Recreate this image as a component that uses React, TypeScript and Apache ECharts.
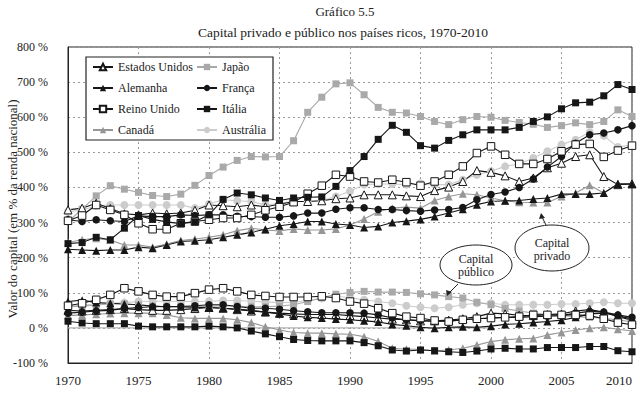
import React, { useEffect, useRef } from 'react';
import * as echarts from 'echarts';

const years: number[] = Array.from({ length: 41 }, (_, i) => 1970 + i);

// Private capital (% of national income)
const usPriv = [336,341,355,340,325,322,327,325,327,335,350,348,345,350,345,352,360,360,362,368,370,379,379,379,376,374,391,401,417,448,443,433,417,427,456,469,488,493,431,408,410];
const jpPriv = [303,338,376,405,395,386,377,374,381,406,434,458,477,488,487,488,533,614,657,695,698,664,628,614,612,602,588,579,593,602,600,591,585,580,571,576,584,579,588,621,602];
const dePriv = [224,222,220,222,222,230,227,236,246,248,251,258,265,272,281,291,296,303,303,296,293,286,289,300,304,309,317,327,338,351,360,362,363,367,370,381,381,381,384,410,410];
const frPriv = [308,303,308,305,303,319,317,317,322,320,322,322,318,317,315,315,319,327,327,338,342,342,337,337,334,332,336,337,343,365,380,387,400,424,458,488,526,550,555,564,576];
const ukPriv = [305,320,350,336,322,298,281,281,298,303,308,313,313,322,335,345,358,382,405,436,431,417,414,422,415,405,417,436,460,498,517,493,467,467,481,503,522,524,487,505,519];
const itPriv = [240,243,258,251,284,320,309,302,297,302,322,366,384,379,370,363,370,372,373,403,448,488,537,577,557,519,512,534,550,564,564,564,571,588,601,624,641,643,661,693,679];
const caPriv = [243,251,255,250,236,236,230,239,249,253,258,265,277,284,279,276,282,279,279,282,293,310,331,341,344,341,363,374,382,379,370,362,358,357,357,374,384,406,384,411,411];
const auPriv = [331,335,348,350,350,350,350,350,350,341,353,365,362,360,350,355,360,360,363,374,389,408,410,410,408,412,408,408,422,436,446,460,467,484,503,522,536,557,547,515,522];

// Public capital (% of national income)
const usPub = [50,48,50,52,55,52,50,50,52,55,58,56,52,48,45,42,40,38,38,38,35,32,28,25,23,20,20,22,26,32,42,40,36,35,38,40,48,52,45,32,22];
const jpPub = [60,62,65,68,68,65,62,60,60,60,62,63,62,60,60,62,66,75,86,96,101,104,102,102,101,97,94,89,85,73,66,55,48,42,38,35,32,30,28,22,18];
const dePub = [75,79,72,70,68,66,62,60,60,58,58,56,54,50,45,40,34,30,28,25,23,20,17,10,6,2,-1,2,3,2,5,10,12,15,18,22,30,40,42,35,25];
const frPub = [42,45,48,50,55,58,60,61,61,63,66,66,61,56,56,53,49,46,43,43,43,42,37,28,23,21,18,20,23,26,28,30,30,32,33,35,42,47,45,37,30];
const ukPub = [63,70,80,94,113,104,94,89,89,99,109,113,104,94,91,88,88,88,90,85,75,69,56,42,32,28,21,18,23,26,28,30,32,37,37,37,37,35,26,15,9];
const itPub = [19,14,12,12,12,5,3,3,3,3,5,3,0,-9,-17,-25,-33,-36,-37,-37,-37,-42,-51,-63,-66,-63,-65,-68,-70,-66,-60,-58,-60,-60,-56,-56,-56,-53,-53,-65,-68];
const caPub = [35,37,39,41,42,42,42,37,29,27,27,27,23,15,3,-6,-13,-15,-15,-17,-18,-25,-39,-58,-61,-61,-65,-63,-58,-49,-39,-34,-31,-30,-20,-13,-6,-1,2,-4,-9];
const auPub = [61,65,68,70,72,75,76,76,75,75,76,78,78,76,74,72,73,78,84,90,86,80,75,70,63,59,56,59,66,70,70,66,66,66,66,68,68,70,73,70,70];

const zeroLine = [[1970, 0], [2000, 0]];

const legendLeft = ['Estados Unidos', 'Alemanha', 'Reino Unido', 'Canadá'];
const legendRight = ['Japão', 'França', 'Itália', 'Austrália'];

const FONT = '"Liberation Serif", "DejaVu Serif", serif';
const BLACK = '#161616';

type Style = { symbol: string; size: number; fill: string; line: string };
const styles: Record<string, Style> = {
  'Estados Unidos': { symbol: 'triangle', size: 8, fill: '#ffffff', line: BLACK },
  'Japão': { symbol: 'rect', size: 7, fill: '#a9a9a9', line: '#a9a9a9' },
  'Alemanha': { symbol: 'triangle', size: 8, fill: BLACK, line: BLACK },
  'França': { symbol: 'circle', size: 7.5, fill: BLACK, line: BLACK },
  'Reino Unido': { symbol: 'rect', size: 7.5, fill: '#ffffff', line: BLACK },
  'Itália': { symbol: 'rect', size: 7, fill: BLACK, line: BLACK },
  'Canadá': { symbol: 'triangle', size: 8, fill: '#969696', line: '#969696' },
  'Austrália': { symbol: 'circle', size: 8, fill: '#cccccc', line: '#cccccc' },
};

const seriesData: [string, number[], number[]][] = [
  ['Austrália', auPriv, auPub],
  ['Japão', jpPriv, jpPub],
  ['Canadá', caPriv, caPub],
  ['Estados Unidos', usPriv, usPub],
  ['Alemanha', dePriv, dePub],
  ['França', frPriv, frPub],
  ['Reino Unido', ukPriv, ukPub],
  ['Itália', itPriv, itPub],
];

function makeSeries(name: string, vals: number[]) {
  const s = styles[name];
  return {
    type: 'line',
    name,
    data: years.map((y, i) => [y, vals[i]]),
    symbol: s.symbol,
    symbolSize: s.size,
    showAllSymbol: true,
    itemStyle: { color: s.fill, borderColor: s.line, borderWidth: s.fill === '#ffffff' ? 1 : 0 },
    lineStyle: { color: s.line, width: 1.1 },
    emphasis: { disabled: true },
  };
}

export default function App() {
  const ref = useRef<HTMLDivElement>(null);
  useEffect(() => {
    if (!ref.current) return;
    const chart = echarts.init(ref.current, undefined, { renderer: 'svg' });
    const series: any[] = [
      {
        type: 'line',
        name: 'zero',
        data: zeroLine,
        symbol: 'none',
        lineStyle: { color: '#b5b5b5', width: 1.2 },
        silent: true,
      },
    ];
    seriesData.forEach(([n, priv, pub]) => {
      series.push(makeSeries(n, pub));
      series.push(makeSeries(n, priv));
    });
    const legendCommon = {
      orient: 'vertical',
      top: 60,
      itemWidth: 20,
      itemHeight: 8,
      itemGap: 7,
      textStyle: { fontFamily: FONT, fontSize: 12, color: '#222', lineHeight: 14, padding: [0, 0, 0, 0] },
      padding: 0,
      selectedMode: false,
      z: 10,
    };
    chart.setOption({
      animation: false,
      backgroundColor: '#ffffff',
      textStyle: { fontFamily: FONT },
      grid: { left: 68, right: 8, top: 47, bottom: 31, show: true, borderColor: '#222', borderWidth: 1 },
      xAxis: {
        type: 'value',
        min: 1970,
        max: 2010,
        interval: 5,
        axisLine: { show: true, onZero: false, lineStyle: { color: '#222', width: 1 } },
        axisTick: { show: false },
        splitLine: { show: true, lineStyle: { type: [2, 3], color: '#9a9a9a', width: 1 } },
        axisLabel: { fontFamily: FONT, fontSize: 13, color: '#222', margin: 11, alignMaxLabel: 'right', formatter: (v: number) => String(v) },
      },
      yAxis: {
        type: 'value',
        min: -100,
        max: 800,
        interval: 100,
        axisLine: { show: true, lineStyle: { color: '#222', width: 1 } },
        axisTick: { show: false },
        splitLine: { show: true, lineStyle: { type: [2, 3], color: '#9a9a9a', width: 1 } },
        axisLabel: { fontFamily: FONT, fontSize: 12, color: '#222', margin: 20, formatter: (v: number) => v + ' %' },
      },
      legend: [
        { ...legendCommon, left: 92, data: legendLeft },
        { ...legendCommon, left: 196, data: legendRight },
      ],
      graphic: [
        { type: 'rect', z: 5, shape: { x: 86, y: 57, width: 187, height: 83 }, style: { fill: '#ffffff', stroke: '#222', lineWidth: 1.2 } },
        { type: 'text', x: 345, y: 11, style: { text: 'Gráfico 5.5', font: `13px ${FONT}`, fill: '#222', align: 'center', verticalAlign: 'middle' } },
        { type: 'text', x: 343, y: 32, style: { text: 'Capital privado e público nos países ricos, 1970-2010', font: `13.5px ${FONT}`, fill: '#222', align: 'center', verticalAlign: 'middle' } },
        { type: 'text', x: 12, y: 209, rotation: Math.PI / 2, style: { text: 'Valor do capital (em % da renda nacional)', font: `13px ${FONT}`, fill: '#222', align: 'center', verticalAlign: 'middle' } },
        // Capital público
        { type: 'ellipse', z: 20, shape: { cx: 476, cy: 265, rx: 36, ry: 20 }, style: { fill: '#ffffff', stroke: '#222', lineWidth: 1 } },
        { type: 'text', z: 21, x: 476, y: 265, style: { text: 'Capital\npúblico', font: `12px ${FONT}`, lineHeight: 13, fill: '#222', align: 'center', verticalAlign: 'middle' } },
        { type: 'line', z: 20, shape: { x1: 458, y1: 284, x2: 449, y2: 293 }, style: { stroke: '#222', lineWidth: 1 } },
        { type: 'polygon', z: 20, shape: { points: [[447, 296], [446, 290], [452, 292]] }, style: { fill: '#222' } },
        // Capital privado
        { type: 'ellipse', z: 20, shape: { cx: 552, cy: 248, rx: 37, ry: 23 }, style: { fill: '#ffffff', stroke: '#222', lineWidth: 1 } },
        { type: 'text', z: 21, x: 552, y: 249, style: { text: 'Capital\nprivado', font: `12px ${FONT}`, lineHeight: 13, fill: '#222', align: 'center', verticalAlign: 'middle' } },
        { type: 'line', z: 20, shape: { x1: 546, y1: 225, x2: 542, y2: 217 }, style: { stroke: '#222', lineWidth: 1 } },
        { type: 'polygon', z: 20, shape: { points: [[541, 213], [539, 219], [545, 218]] }, style: { fill: '#222' } },
      ],
      series,
    });
    return () => chart.dispose();
  }, []);
  return <div ref={ref} style={{ width: 640, height: 394, position: 'absolute', left: 0, top: 0 }} />;
}
